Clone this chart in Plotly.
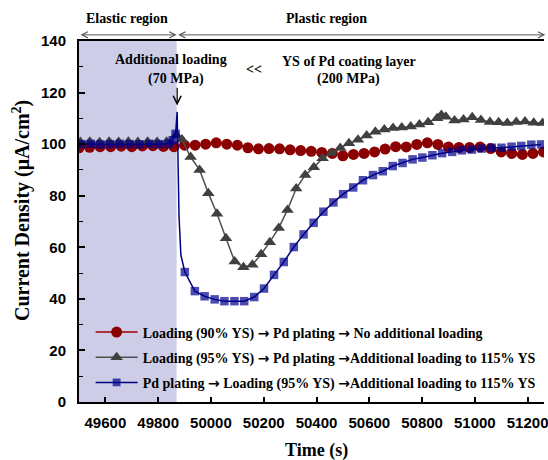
import plotly.graph_objects as go

# ---------------- data ----------------
red_t = [49500, 49540, 49580, 49620, 49660, 49700, 49740, 49780, 49820, 49860,
         49900, 49940, 49980, 50020, 50060, 50100, 50140, 50180, 50220, 50260,
         50300, 50340, 50380, 50420, 50460, 50500, 50540, 50580, 50620, 50660,
         50700, 50740, 50780, 50820, 50860, 50900, 50940, 50980, 51020, 51060,
         51100, 51140, 51180, 51220, 51260]
red_v = [98.6, 98.8, 99.0, 99.0, 99.2, 99.0, 99.3, 99.4, 99.1, 99.0,
         99.6, 99.6, 100.0, 100.5, 100.0, 99.6, 98.6, 98.2, 98.3, 98.2,
         97.8, 97.5, 97.2, 96.8, 96.4, 95.5, 96.0, 96.4, 97.0, 98.1,
         99.0, 98.9, 99.9, 100.5, 99.9, 98.9, 98.7, 98.7, 98.9, 98.3,
         97.0, 96.4, 96.0, 96.4, 97.0]

gray_t = [49505, 49541, 49578, 49614, 49650, 49687, 49723, 49760, 49796, 49832,
          49868, 49890, 49923, 49957, 49990, 50023, 50057, 50090, 50123, 50157,
          50190, 50223, 50257, 50290, 50323, 50357, 50390, 50423, 50457, 50490,
          50523, 50557, 50590, 50623, 50657, 50690, 50723, 50757, 50790, 50823,
          50857, 50873, 50890, 50923, 50957, 50990, 51023, 51057, 51090, 51123,
          51157, 51190, 51223, 51257]
gray_v = [100.8, 100.9, 100.7, 100.9, 100.8, 100.9, 100.8, 100.9, 100.8, 100.9,
          103.5, 101.8, 95.0, 90.0, 81.0, 73.0, 63.5, 54.5, 52.3, 53.2,
          57.3, 62.0, 67.5, 74.5, 82.8, 88.0, 91.0, 94.5, 96.6, 98.5,
          100.3, 101.7, 103.4, 104.8, 105.7, 106.3, 106.5, 106.8, 107.6, 108.5,
          110.0, 111.3, 110.6, 109.2, 109.6, 110.4, 109.4, 108.6, 108.5, 108.2,
          108.6, 108.8, 108.3, 108.2]

blue_t = [49509, 49545, 49581, 49618, 49655, 49692, 49729, 49766, 49803, 49840,
          49855, 49866, 49872, 49876, 49879, 49886,
          49901, 49939, 49976, 50014, 50051, 50089, 50126, 50164, 50201, 50239,
          50276, 50314, 50351, 50389, 50426, 50464, 50501, 50539, 50576, 50614,
          50651, 50689, 50726, 50764, 50801, 50839, 50876, 50914, 50951, 50989,
          51026, 51064, 51101, 51139, 51176, 51214, 51251]
blue_v = [100.0, 100.1, 99.9, 100.0, 100.1, 100.0, 99.9, 100.1, 100.0, 100.2,
          101.5, 104.0, 112.5, 95.0, 72.0, 57.0,
          50.4, 43.0, 41.0, 39.8, 39.1, 39.1, 39.1, 40.7, 44.0, 49.3,
          54.3, 60.1, 65.0, 69.5, 73.8, 77.4, 80.6, 83.2, 86.0, 88.0,
          89.5, 91.5, 92.7, 94.1, 94.8, 95.7, 96.5, 97.0, 97.6, 97.9,
          98.3, 98.6, 98.6, 99.0, 99.3, 99.8, 99.9]
# transient points of the blue curve that carry no marker
blue_unmarked_t = [49872, 49876, 49879, 49886]

x_ticks = [49600, 49800, 50000, 50200, 50400, 50600, 50800, 51000, 51200]
x_ticklabels = ["49600", "49800", "50000", "50200", "50400", "50600", "50800", "51000", "51200"]

elastic_end = 49870
x_range = [49500, 51262]
y_range = [0, 140]

ARR = "<span style='font-family:DejaVu Sans'>\u2192</span>"
names = ["Loading (90% YS) " + ARR + " Pd plating " + ARR + " No additional loading",
         "Loading (95% YS) " + ARR + " Pd plating " + ARR + "Additional loading to 115% YS",
         "Pd plating " + ARR + " Loading (95% YS) " + ARR + "Additional loading to 115% YS"]

# ---------------- figure ----------------
SERIF = "Liberation Serif"
SANS = "Liberation Sans"

fig = go.Figure()

fig.add_trace(go.Scatter(
    x=red_t, y=red_v, mode="lines+markers", name="<b>" + names[0] + "</b>", legendgroup="a",
    line=dict(color="#A00000", width=1.5),
    marker=dict(symbol="circle", size=11, color="#8B0000",
                line=dict(color="#8B0000", width=0))))

fig.add_trace(go.Scatter(
    x=gray_t, y=gray_v, mode="lines+markers", name="<b>" + names[1] + "</b>", legendgroup="b",
    line=dict(color="#505050", width=1.5),
    marker=dict(symbol="triangle-up", size=11, color="#404040",
                line=dict(color="#404040", width=0))))

blue_sizes = [0 if t in blue_unmarked_t else 8.5 for t in blue_t]
fig.add_trace(go.Scatter(
    x=blue_t, y=blue_v, mode="lines+markers", name="<b>" + names[2] + "</b>", legendgroup="c",
    line=dict(color="#000080", width=1.5),
    marker=dict(symbol="square", size=blue_sizes, color="#00008B",
                line=dict(color="#00008B", width=0))))

# elastic region shading
fig.add_shape(type="rect", xref="x", yref="y", x0=x_range[0], x1=elastic_end,
              y0=y_range[0], y1=y_range[1], fillcolor="rgb(205,205,232)",
              line=dict(width=0), layer="below")

ann = []
def txt(x, y, s, size=14, xref="x", yref="paper", **kw):
    ann.append(dict(x=x, y=y, xref=xref, yref=yref, text=s, showarrow=False,
                    font=dict(family=SERIF, size=size, color="black"),
                    xanchor="center", yanchor="middle", **kw))

txt(49682, 1.061, "<b>Elastic region</b>")
txt(50438, 1.061, "<b>Plastic region</b>")
txt(49848, 0.948, "<b>Additional loading</b>")
txt(49867, 0.895, "<b>(70 MPa)</b>")
txt(50164, 0.92, "<b>&lt;&lt;</b>")
txt(50524, 0.943, "<b>YS of Pd coating layer</b>")
txt(50522, 0.895, "<b>(200 MPa)</b>")
# axis titles
txt(50400, -0.133, "<b>Time (s)</b>", size=18)
ann.append(dict(x=-0.124, y=0.53, xref="paper", yref="paper",
                text="<b>Current Density (\u03bcA/cm<sup>2</sup>)</b>",
                showarrow=False, textangle=-90,
                font=dict(family=SERIF, size=20, color="black"),
                xanchor="center", yanchor="middle"))

# region arrows above plot
for x0, x1 in [(x_range[0], elastic_end), (elastic_end, x_range[1] + 5)]:
    ann.append(dict(x=x1, y=1.017, ax=x0, ay=0, xref="x", yref="paper",
                    axref="x", ayref="pixel", showarrow=True, text="",
                    arrowhead=5, startarrowhead=5, arrowside="end+start",
                    arrowsize=1.2, startarrowsize=1.2, arrowwidth=1,
                    arrowcolor="#555555"))
# loading arrow
ann.append(dict(x=elastic_end + 2, y=115, ax=elastic_end + 2, ay=122.5,
                xref="x", yref="y", axref="x", ayref="y", showarrow=True,
                text="", arrowhead=5, arrowsize=1.3, arrowwidth=1.2,
                arrowcolor="black"))

fig.update_layout(
    width=548, height=460,
    margin=dict(l=79, r=0, t=41, b=58),
    paper_bgcolor="white", plot_bgcolor="white",
    showlegend=True,
    legend=dict(x=0.025, y=0.237, xanchor="left", yanchor="top",
                bgcolor="rgba(0,0,0,0)", borderwidth=0,
                font=dict(family=SERIF, size=14, color="black"),
                itemwidth=42, tracegroupgap=4, traceorder="grouped"),
    annotations=ann,
)

fig.update_xaxes(range=x_range, tickmode="array",
                 tickvals=x_ticks, ticktext=x_ticklabels,
                 ticks="inside", ticklen=5, tickwidth=1.5, tickcolor="black",
                 showline=True, linewidth=2, linecolor="black", mirror=True,
                 showgrid=False, zeroline=False, ticklabelstandoff=6,
                 ticklabeloverflow="allow",
                 tickfont=dict(family=SANS, size=15, color="black", weight="bold"))
fig.update_yaxes(range=y_range, dtick=20, tick0=0,
                 ticks="inside", ticklen=6, tickwidth=1.5, tickcolor="black",
                 minor=dict(dtick=10, ticks="inside", ticklen=4, tickwidth=1.2,
                            tickcolor="black"),
                 showline=True, linewidth=2, linecolor="black", mirror=False,
                 showgrid=False, zeroline=False, ticklabelstandoff=8,
                 tickfont=dict(family=SANS, size=15, color="black", weight="bold"))

fig.write_html("out.html")
